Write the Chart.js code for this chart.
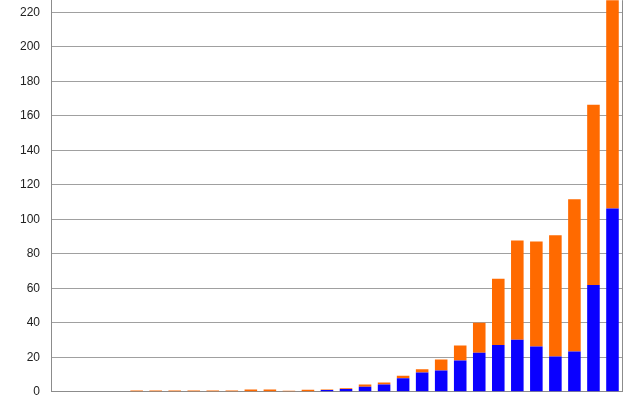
<!DOCTYPE html>
<html>
<head>
<meta charset="utf-8">
<script src="https://cdn.jsdelivr.net/npm/chart.js@4/dist/chart.umd.min.js"></script>
<style>
  html, body { margin: 0; padding: 0; background: #fff; overflow: hidden; }
  /* the plot reaches the top edge of the picture, so the canvas is shifted up */
  #wrap { position: absolute; left: 0; top: -18px; width: 640px; height: 428px; }
</style>
</head>
<body>
<div id="wrap"><canvas id="myChart"></canvas></div>
<script>
// 30 periods, no labels shown on the axis
const categories = ["1","2","3","4","5","6","7","8","9","10","11","12","13","14","15",
  "16","17","18","19","20","21","22","23","24","25","26","27","28","29","30"];
// bottom part (blue)
const blueValues = [0, 0, 0, 0, 0, 0, 0, 0, 0, 0, 0, 0, 0, 0, 1.0, 1.6, 2.9, 4.2, 7.8, 11.2,
  12.4, 18.2, 22.6, 27.1, 30.2, 26.3, 20.5, 23.3, 61.9, 106.2];
// top part (orange), stacked on the blue
const orangeValues = [0, 0, 0, 0, 0.8, 0.8, 0.8, 0.8, 0.8, 0.8, 1.3, 1.3, 0.6, 1.2, 0.3, 0.4, 1.3, 1.2, 1.5, 1.8,
  6.3, 8.7, 17.4, 38.4, 57.5, 60.8, 70.2, 88.3, 104.5, 135];
const yTicks = [0, 20, 40, 60, 80, 100, 120, 140, 160, 180, 200, 220];

const frame = {
  id: "frame",
  afterDraw(chart) {
    const { ctx, chartArea } = chart;
    ctx.save();
    ctx.strokeStyle = "#8c8c8c";
    ctx.lineWidth = 1;
    ctx.beginPath();
    ctx.moveTo(Math.round(chartArea.right) + 0.5, chartArea.top);
    ctx.lineTo(Math.round(chartArea.right) + 0.5, chartArea.bottom);
    ctx.stroke();
    ctx.restore();
  }
};

const ctx = document.getElementById("myChart");
const myChart = new Chart(ctx, {
  type: "bar",
  data: {
    labels: categories,
    datasets: [
      {
        label: "blue",
        data: blueValues,
        backgroundColor: "#0a00ff",
        barPercentage: 0.66,
        categoryPercentage: 1.0,
      },
      {
        label: "orange",
        data: orangeValues,
        backgroundColor: "#ff6a00",
        barPercentage: 0.66,
        categoryPercentage: 1.0,
      },
    ],
  },
  options: {
    responsive: true,
    maintainAspectRatio: false,
    animation: false,
    layout: { padding: { left: 0, right: 18, top: 0, bottom: 0 } },
    plugins: { legend: { display: false }, tooltip: { enabled: false } },
    scales: {
      x: {
        stacked: true,
        grid: { display: false },
        border: { display: true, color: "#8c8c8c" },
        ticks: { display: false },
        afterFit: (s) => { s.height = 9; },
      },
      y: {
        stacked: true,
        min: 0,
        max: 227,
        afterBuildTicks: (s) => { s.ticks = yTicks.map((v) => ({ value: v })); },
        afterFit: (s) => { s.width = 51; },
        grid: { color: "#a0a0a0", drawTicks: false },
        border: { display: true, color: "#8c8c8c" },
        ticks: {
          padding: 11,
          color: "#222",
          font: { family: "Liberation Sans", size: 12 },
        },
      },
    },
  },
  plugins: [frame],
});
</script>
</body>
</html>
